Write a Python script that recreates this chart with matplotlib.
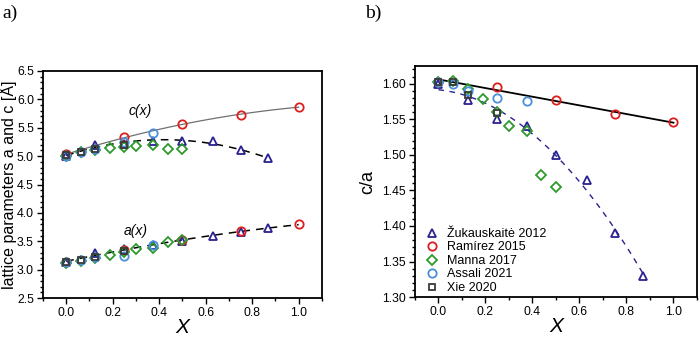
import numpy as np
import matplotlib
matplotlib.use("Agg")
import matplotlib.pyplot as plt
from matplotlib.ticker import MultipleLocator

plt.rcParams["font.family"] = ["Liberation Sans", "DejaVu Sans"]

# --- data ---
zuk_x = [0.0, 0.125, 0.25, 0.375, 0.5, 0.63, 0.75, 0.87]
zuk_c = [5.00, 5.19, 5.22, 5.27, 5.27, 5.26, 5.10, 4.96]
zuk_a = [3.13, 3.29, 3.37, 3.43, 3.51, 3.60, 3.67, 3.73]
zuk_ca = [1.600, 1.577, 1.550, 1.540, 1.500, 1.465, 1.390, 1.330]

ram_x = [0.0, 0.25, 0.5, 0.75, 1.0]
ram_c = [5.03, 5.33, 5.57, 5.72, 5.87]
ram_a = [3.14, 3.34, 3.53, 3.68, 3.80]
ram_ca = [1.603, 1.595, 1.577, 1.557, 1.546]

man_x = [0.0, 0.0625, 0.125, 0.1875, 0.25, 0.3, 0.375, 0.4375, 0.5]
man_c = [5.00, 5.07, 5.11, 5.14, 5.16, 5.18, 5.20, 5.13, 5.13]
man_a = [3.12, 3.16, 3.21, 3.26, 3.31, 3.36, 3.39, 3.48, 3.52]
man_ca = [1.603, 1.604, 1.592, 1.578, 1.560, 1.541, 1.533, 1.471, 1.455]

ass_x = [0.0, 0.0625, 0.125, 0.25, 0.375]
ass_c = [5.00, 5.08, 5.13, 5.25, 5.40]
ass_a = [3.13, 3.18, 3.23, 3.25, 3.43]
ass_ca = [1.603, 1.600, 1.590, 1.580, 1.576]

xie_x = [0.0, 0.0625, 0.125, 0.25]
xie_c = [5.02, 5.08, 5.12, 5.19]
xie_a = [3.13, 3.17, 3.22, 3.33]
xie_ca = [1.603, 1.602, 1.584, 1.559]

NAVY, RED, GREEN, BLUE, GREY = "#2a2290", "#dd1e1e", "#2e9a2e", "#4a8fdb", "#3a3a3a"
mk = dict(mfc="none", mew=1.3, ls="none")


def style_axis(ax):
    ax.set_xlim(-0.1, 1.1)
    ax.xaxis.set_major_locator(MultipleLocator(0.2))
    ax.xaxis.set_minor_locator(MultipleLocator(0.1))
    ax.tick_params(which="both", direction="out", labelsize=8.8, width=1.0, pad=2.5)
    ax.tick_params(which="major", length=4)
    ax.tick_params(which="minor", length=2.5)
    ax.tick_params(top=False, right=False)
    for s in ax.spines.values():
        s.set_linewidth(1.3)
    ax.set_xlabel("X", fontsize=15, style="italic", labelpad=-1)


fig = plt.figure(figsize=(6.99, 3.38), dpi=100)
ax1 = fig.add_axes([0.0615, 0.118, 0.399, 0.672])
ax2 = fig.add_axes([0.5937, 0.121, 0.4034, 0.684])

# --- panel a: lattice parameters ---
xs = np.linspace(0, 1, 100)
xs_z = np.linspace(0, 0.87, 100)
ax1.plot(xs, np.polyval(np.polyfit(ram_x, ram_c, 2), xs), color="#707070", lw=0.9)
ax1.plot(xs_z, np.polyval(np.polyfit(zuk_x, zuk_c, 2), xs_z), color="black", lw=1.1, ls=(0, (5, 4)))
a_fit = np.polyfit(zuk_x + ram_x, zuk_a + ram_a, 2)
ax1.plot(xs, np.polyval(a_fit, xs), color="black", lw=1.1, ls=(0, (5, 4)))

for x, c, a, col, m in [(zuk_x, zuk_c, zuk_a, NAVY, "^"), (ram_x, ram_c, ram_a, RED, "o"),
                        (man_x, man_c, man_a, GREEN, "D"), (ass_x, ass_c, ass_a, BLUE, "o"),
                        (xie_x, xie_c, xie_a, GREY, "s")]:
    ms = 4.8 if m in ("D", "s") else 6
    ax1.plot(x, c, marker=m, mec=col, ms=ms, **mk)
    ax1.plot(x, a, marker=m, mec=col, ms=ms, **mk)

ax1.text(0.32, 5.80, "c(x)", style="italic", fontsize=10, ha="center", va="center")
ax1.text(0.30, 3.68, "a(x)", style="italic", fontsize=10, ha="center", va="center")
ax1.set_ylim(2.5, 6.5)
ax1.yaxis.set_major_locator(MultipleLocator(0.5))
ax1.yaxis.set_minor_locator(MultipleLocator(0.1))
style_axis(ax1)
ax1.set_ylabel("lattice parameters a and c [Å]", fontsize=11.5)
ax1.yaxis.set_label_coords(-0.092, 0.5)

# --- panel b: c/a ratio ---
ax2.plot(xs, np.polyval(np.polyfit(ram_x, ram_ca, 1), xs), color="black", lw=1.3)
ax2.plot(xs_z, np.polyval(np.polyfit(zuk_x, zuk_ca, 2), xs_z), color=NAVY, lw=1.0, ls=(0, (4, 4)))

labels = ["Žukauskaitė 2012", "Ramírez 2015", "Manna 2017", "Assali 2021", "Xie 2020"]
for x, ca, col, m, lab in [(zuk_x, zuk_ca, NAVY, "^", labels[0]), (ram_x, ram_ca, RED, "o", labels[1]),
                           (man_x, man_ca, GREEN, "D", labels[2]), (ass_x, ass_ca, BLUE, "o", labels[3]),
                           (xie_x, xie_ca, GREY, "s", labels[4])]:
    ms = 4.8 if m in ("D", "s") else 6
    ax2.plot(x, ca, marker=m, mec=col, ms=ms, label=lab, **mk)

ax2.set_ylim(1.30, 1.625)
ax2.yaxis.set_major_locator(MultipleLocator(0.05))
ax2.yaxis.set_minor_locator(MultipleLocator(0.01))
style_axis(ax2)
ax2.set_ylabel("c/a", fontsize=13, labelpad=4)
ax2.legend(loc="lower left", bbox_to_anchor=(0.0, -0.035), frameon=False, fontsize=9,
           handletextpad=0.7, labelspacing=0.12, handlelength=1.0, borderaxespad=0.5)

fig.text(0.003, 0.985, "a)", family=["Liberation Serif"], fontsize=14, va="top")
fig.text(0.522, 0.985, "b)", family=["Liberation Serif"], fontsize=14, va="top")

fig.savefig("out.png", dpi=100)
